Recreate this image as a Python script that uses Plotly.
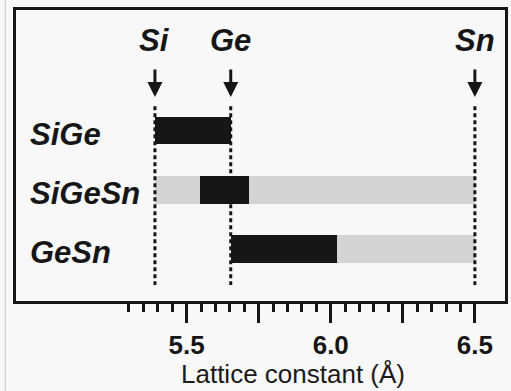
import plotly.graph_objects as go

# ---- data ----
rows = ["SiGe", "SiGeSn", "GeSn"]
row_pos = [2, 1, 0]
elements = ["Si", "Ge", "Sn"]
element_a = [5.39, 5.653, 6.50]          # lattice constants as drawn (Å)

# full (light grey) ranges
grey_start = [None, 5.39, 6.02]
grey_end = [None, 6.50, 6.50]
# lattice-matched / dark ranges
dark_start = [5.39, 5.548, 5.653]
dark_end = [5.653, 5.717, 6.02]

major_ticks = [5.5, 5.75, 6.0, 6.25, 6.5]
major_text = ["5.5", "", "6.0", "", "6.5"]
minor_ticks = [5.30, 5.35, 5.40, 5.45, 5.55, 5.60, 5.65, 5.70, 5.80, 5.85, 5.90, 5.95,
               6.05, 6.10, 6.15, 6.20, 6.30, 6.35, 6.40, 6.45]

FONT = "Liberation Sans, Arial, Helvetica, sans-serif"
BLACK = "#161616"
GREY = "#d3d3d3"
BG = "#f8f8f8"

fig = go.Figure()

gy = [p for p, s in zip(row_pos, grey_start) if s is not None]
gs = [s for s in grey_start if s is not None]
ge = [e for e in grey_end if e is not None]
fig.add_trace(go.Bar(orientation="h", y=gy, base=gs, x=[e - s for s, e in zip(gs, ge)],
                     marker=dict(color=GREY, line=dict(width=0)), width=0.465,
                     showlegend=False, hoverinfo="skip"))
fig.add_trace(go.Bar(orientation="h", y=row_pos, base=dark_start,
                     x=[e - s for s, e in zip(dark_start, dark_end)],
                     marker=dict(color=BLACK, line=dict(width=0)), width=0.465,
                     showlegend=False, hoverinfo="skip"))

# dotted reference lines
for a in element_a:
    fig.add_trace(go.Scatter(x=[a, a], y=[2.41, -0.61], mode="lines",
                             line=dict(color=BLACK, width=3, dash="4px,3px"),
                             showlegend=False, hoverinfo="skip"))

annotations = []
for name, a in zip(elements, element_a):
    annotations.append(dict(x=a, y=3.52, xref="x", yref="y", text=name, showarrow=False,
                            xanchor="center", yanchor="middle",
                            font=dict(family=FONT, size=31, color=BLACK, weight="bold", style="italic")))
    annotations.append(dict(x=a, y=2.565, xref="x", yref="y", text="", showarrow=True,
                            ax=0, ay=-29, arrowhead=2, arrowsize=1.0, arrowwidth=3,
                            arrowcolor=BLACK, standoff=0, startstandoff=0))
for name, p in zip(rows, row_pos):
    annotations.append(dict(x=4.95, y=p - 0.06, xref="x", yref="y", text=name, showarrow=False,
                            xanchor="left", yanchor="middle",
                            font=dict(family=FONT, size=31, color=BLACK, weight="bold", style="italic")))
annotations.append(dict(x=5.87, y=-0.252, xref="x", yref="paper", text="Lattice constant (Å)",
                        showarrow=False, xanchor="center", yanchor="middle",
                        font=dict(family=FONT, size=26, color="#1a1a1a")))

fig.update_layout(
    width=511, height=391,
    margin=dict(l=16, r=3, t=10, b=90),
    paper_bgcolor=BG, plot_bgcolor=BG,
    barmode="overlay", bargap=0,
    annotations=annotations,
    shapes=[dict(type="line", xref="paper", yref="paper", x0=-0.022, x1=-0.022, y0=-0.31, y1=1.04,
                 line=dict(color="#c8c8c8", width=1))],
    xaxis=dict(range=[4.908, 6.6045], showgrid=False, zeroline=False,
               showline=True, mirror=True, linewidth=3, linecolor=BLACK,
               tickmode="array", tickvals=major_ticks, ticktext=major_text,
               ticks="outside", ticklen=19, tickwidth=3, tickcolor=BLACK,
               ticklabelstandoff=0,
               tickfont=dict(family=FONT, size=26, color=BLACK, weight="bold"),
               minor=dict(tickmode="array", tickvals=minor_ticks, ticks="outside",
                          ticklen=8, tickwidth=3, tickcolor=BLACK, showgrid=False)),
    yaxis=dict(range=[-0.878, 4.034], showgrid=False, zeroline=False,
               showline=True, mirror=True, linewidth=3, linecolor=BLACK,
               showticklabels=False, ticks=""),
)

fig.write_html("out.html")
